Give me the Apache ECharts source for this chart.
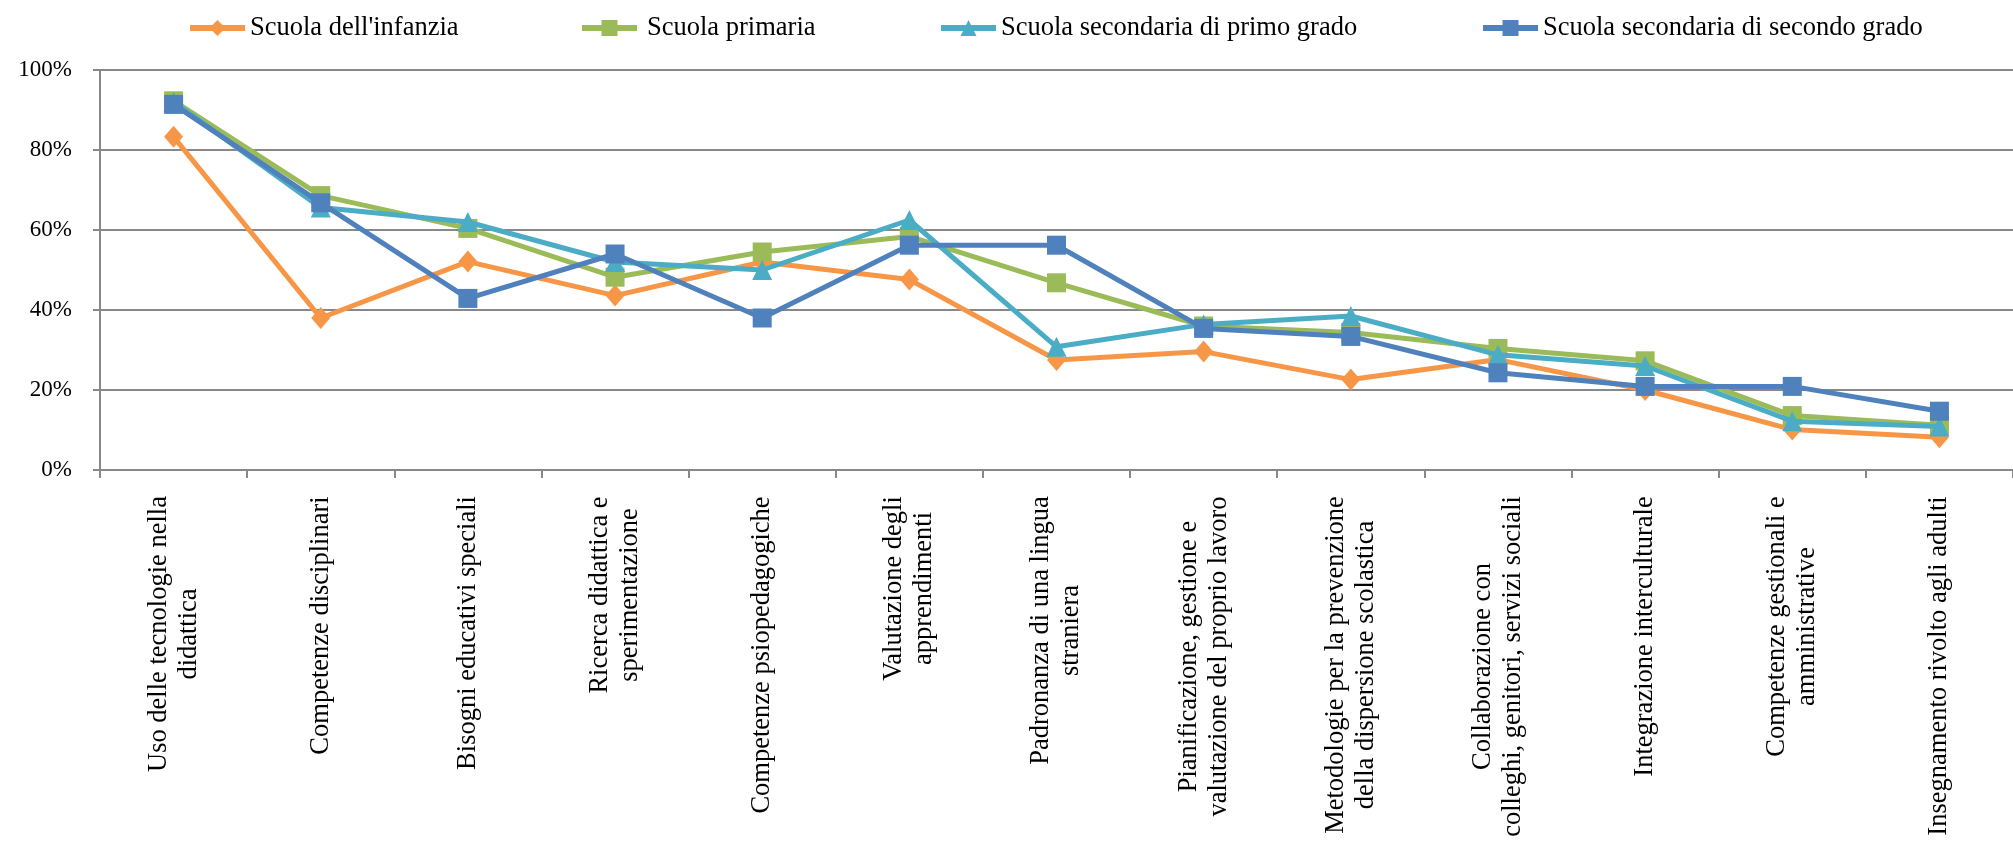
<!DOCTYPE html>
<html>
<head>
<meta charset="utf-8">
<script src="https://cdn.jsdelivr.net/npm/echarts@6/dist/echarts.min.js"></script>
<style>
  html, body { margin: 0; padding: 0; background: #fff; overflow: hidden; }
  #chart { width: 2013px; height: 841px; }
</style>
</head>
<body>
<div id="chart"></div>
<script>
// Training areas (category labels, with line breaks as they wrap under the axis)
const categories = [
  "Uso delle tecnologie nella\ndidattica",
  "Competenze disciplinari",
  "Bisogni educativi speciali",
  "Ricerca didattica e\nsperimentazione",
  "Competenze psiopedagogiche",
  "Valutazione degli\napprendimenti",
  "Padronanza di una lingua\nstraniera",
  "Pianificazione, gestione e\nvalutazione del proprio lavoro",
  "Metodologie per la prevenzione\ndella dispersione scolastica",
  "Collaborazione con\ncolleghi, genitori, servizi sociali",
  "Integrazione interculturale",
  "Competenze gestionali e\namministrative",
  "Insegnamento rivolto agli adulti"
];

// Share of teachers (%) by school level
const infanzia     = [83.3, 38.0, 52.1, 43.6, 52.0, 47.6, 27.5, 29.6, 22.6, 27.6, 20.0, 10.1, 8.2];
const primaria     = [92.3, 68.6, 60.4, 48.2, 54.5, 58.4, 46.8, 36.0, 34.4, 30.4, 27.3, 13.6, 11.2];
const primoGrado   = [92.0, 65.6, 62.0, 52.0, 50.0, 62.5, 30.8, 36.4, 38.5, 28.8, 26.0, 12.2, 10.9];
const secondoGrado = [91.4, 66.8, 42.9, 54.0, 38.0, 56.2, 56.2, 35.4, 33.4, 24.3, 20.9, 20.9, 14.7];

const seriesNames = [
  "Scuola dell'infanzia",
  "Scuola primaria",
  "Scuola secondaria di primo grado",
  "Scuola secondaria di secondo grado"
];

// Percentage axis: 0% to 100% in steps of 20
const yTicks = [0, 20, 40, 60, 80, 100];

const FONT = '"Liberation Serif", "Times New Roman", serif';
const X_FONT_SIZE = 26.5;

// Measure each label so that multi-line labels are centred line by line
const ctx = document.createElement('canvas').getContext('2d');
ctx.font = X_FONT_SIZE + 'px ' + FONT;
const rich = {};
categories.forEach((c, i) => {
  const w = Math.max(...c.split('\n').map(l => ctx.measureText(l).width));
  rich['L' + i] = {
    width: Math.ceil(w) + 2, align: 'center',
    fontFamily: FONT, fontSize: X_FONT_SIZE, color: '#000', lineHeight: 30
  };
});

const colors = ['#F79646', '#9BBB59', '#4BACC6', '#4F81BD'];
const symbols = ['diamond', 'rect', 'triangle', 'rect'];
const symbolSizes = [[19, 22], 19, 20, 19];
const dataSets = [infanzia, primaria, primoGrado, secondoGrado];

// One legend block per series, each at its own position along the top
const legendLefts = [182, 574, 933, 1475];
const legendPadLeft = [0, 5, 0, 0];

const chart = echarts.init(document.getElementById('chart'), null, { renderer: 'canvas' });

chart.setOption({
  animation: false,
  backgroundColor: '#ffffff',
  legend: seriesNames.map((n, i) => ({
    data: [n],
    left: legendLefts[i],
    top: 3,
    itemWidth: 55,
    itemHeight: 20,
    lineStyle: { width: 6 },
    textStyle: {
      fontFamily: FONT, fontSize: 26.5, color: '#000',
      lineHeight: 28, padding: [12, 0, 0, legendPadLeft[i]]
    }
  })),
  grid: { left: 100, right: -8, top: 70, bottom: 367.5, containLabel: false },
  xAxis: {
    type: 'category',
    data: categories,
    boundaryGap: true,
    axisLine: { show: true, lineStyle: { color: '#888888', width: 2 } },
    axisTick: { show: true, alignWithLabel: false, length: 8, inside: false, lineStyle: { color: '#888888', width: 2 } },
    axisLabel: {
      interval: 0,
      rotate: 90,
      margin: 25,
      fontFamily: FONT,
      fontSize: X_FONT_SIZE,
      color: '#000',
      formatter: (value, idx) => value.split('\n').map(l => '{L' + idx + '|' + l + '}').join('\n'),
      rich: rich
    },
    splitLine: { show: false }
  },
  yAxis: {
    type: 'value',
    min: yTicks[0],
    max: yTicks[yTicks.length - 1],
    interval: 20,
    axisLine: { show: true, lineStyle: { color: '#888888', width: 2 } },
    axisTick: { show: true, length: 7, lineStyle: { color: '#888888', width: 2 } },
    axisLabel: { formatter: '{value}%', fontFamily: FONT, fontSize: 23, color: '#000', margin: 28 },
    splitLine: { show: true, lineStyle: { color: '#888888', width: 2 } }
  },
  series: seriesNames.map((n, i) => ({
    name: n,
    type: 'line',
    data: dataSets[i],
    color: colors[i],
    symbol: symbols[i],
    symbolSize: symbolSizes[i],
    showAllSymbol: true,
    lineStyle: { width: 5, color: colors[i] },
    itemStyle: { color: colors[i] },
    z: 2 + i
  }))
});
</script>
</body>
</html>
